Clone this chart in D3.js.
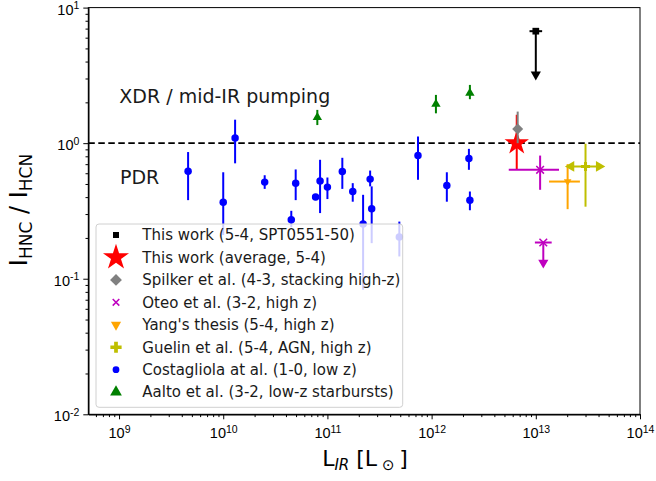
<!DOCTYPE html>
<html>
<head>
<style>
  body { margin: 0; background: #fff; }
  svg { font-family: "DejaVu Sans", sans-serif; }
  .axis path, .axis line { stroke: #000; stroke-width: 1px; }
  .axis text { fill: #000; }
  .ebar { fill: none; stroke-width: 2px; }
  .note { font-size: 19px; fill: #1a1a1a; }
  .legend text { font-size: 15px; fill: #1a1a1a; }
</style>
</head>
<body>
<svg id="chart" width="656" height="481"></svg>
<script src="https://d3js.org/d3.v7.min.js"></script>
<script>
// ---- data ----
// This work (5-4, SPT0551-50): upper limit
const thisL = [1.0e13], thisR = [6.7], thisLimit = [3.1];
const thisLlo = [8.7e12], thisLhi = [1.15e13];

// This work (average, 5-4)
const avgL = [6.56e12], avgR = [1.0], avgLo = [0.636], avgHi = [1.62];

// Spilker et al.
const spilL = [6.7e12], spilR = [1.27], spilLo = [1.0], spilHi = [1.71];

// Oteo et al. (second one is an upper limit)
const oteoL = [1.1e13, 1.18e13];
const oteoR = [0.636, 0.185];
const oteoLlo = [5.5e12, 9.8e12], oteoLhi = [1.67e13, 1.42e13];
const oteoLo = [0.453, 0.127], oteoHi = [0.81, 0.185];
const oteoUpper = [false, true];

// Yang's thesis
const yangL = [2.02e13], yangR = [0.521];
const yangLlo = [1.34e13], yangLhi = [2.65e13];
const yangLo = [0.326], yangHi = [0.70];

// Guelin et al. (limits in L both ways)
const guelL = [3.0e13], guelR = [0.673];
const guelLlo = [2.09e13], guelLhi = [4.23e13];
const guelLo = [0.34], guelHi = [0.99];

// Costagliola et al.
const costL = [4.6e9, 1.0e10, 1.3e10, 2.5e10, 4.5e10, 4.96e10, 7.7e10, 8.5e10, 1.0e11, 1.39e11,
               1.75e11, 2.2e11, 2.57e11, 2.66e11, 4.9e11, 7.4e11, 1.4e12, 2.28e12, 2.33e12];
const costR = [0.62, 0.367, 1.09, 0.516, 0.272, 0.507, 0.40, 0.527, 0.474, 0.618,
               0.44, 0.253, 0.543, 0.328, 0.203, 0.81, 0.487, 0.77, 0.38];
const costLo = [0.38, 0.21, 0.71, 0.46, 0.24, 0.38, 0.38, 0.305, 0.387, 0.46,
                0.37, 0.083, 0.48, 0.183, 0.146, 0.537, 0.37, 0.636, 0.32];
const costHi = [0.86, 0.61, 1.49, 0.58, 0.317, 0.64, 0.42, 0.754, 0.558, 0.78,
                0.507, 0.416, 0.628, 0.48, 0.264, 1.12, 0.61, 0.908, 0.44];

// Aalto et al.
const aaltoL = [8.0e10, 1.1e12, 2.33e12];
const aaltoR = [1.55, 1.94, 2.34];
const aaltoLo = [1.36, 1.66, 2.11];
const aaltoHi = [1.76, 2.27, 2.69];

const legendLabels = [
  "This work (5-4, SPT0551-50)",
  "This work (average, 5-4)",
  "Spilker et al. (4-3, stacking high-z)",
  "Oteo et al. (3-2, high z)",
  "Yang's thesis (5-4, high z)",
  "Guelin et al. (5-4, AGN, high z)",
  "Costagliola at al. (1-0, low z)",
  "Aalto et al. (3-2, low-z starbursts)"
];
const xTickExps = [9, 10, 11, 12, 13, 14];
const yTickExps = [-2, -1, 0, 1];

// ---- layout ----
const plot = { left: 88.3, right: 640, top: 7.6, bottom: 414.3 };
const svg = d3.select("#chart");

const x = d3.scaleLog().domain([5.07e8, 1e14]).range([plot.left, plot.right]);
const y = d3.scaleLog().domain([1e-2, 1e1]).range([plot.bottom, plot.top]);

// minor tick values
const xMinor = [], yMinor = [];
for (let e = 8; e < 14; e++) for (let m = 2; m < 10; m++) {
  const v = m * Math.pow(10, e);
  if (v >= 5.07e8 && v <= 1e14) xMinor.push(v);
}
for (let e = -2; e < 1; e++) for (let m = 2; m < 10; m++) yMinor.push(m * Math.pow(10, e));

function powText(t, d) {
  t.append("tspan").attr("font-size", "14.5px").text("10");
  t.append("tspan").attr("font-size", "10.5px").attr("dy", -5.5).text(Math.round(Math.log10(d)));
}

// axes
svg.append("g").attr("class", "axis")
  .attr("transform", `translate(0,${plot.bottom})`)
  .call(d3.axisBottom(x).tickValues(xMinor).tickSize(2.8).tickSizeOuter(0).tickFormat(""));
svg.append("g").attr("class", "axis")
  .attr("transform", `translate(0,${plot.bottom})`)
  .call(d3.axisBottom(x).tickValues(xTickExps.map(e => Math.pow(10, e))).tickSize(5).tickSizeOuter(0).tickFormat(""))
  .selectAll(".tick").each(function(d) {
    const t = d3.select(this).append("text")
      .attr("y", 24).attr("text-anchor", "middle").attr("fill", "#000");
    powText(t, d);
  });

svg.append("g").attr("class", "axis")
  .attr("transform", `translate(${plot.left},0)`)
  .call(d3.axisLeft(y).tickValues(yMinor).tickSize(2.8).tickSizeOuter(0).tickFormat(""));
svg.append("g").attr("class", "axis")
  .attr("transform", `translate(${plot.left},0)`)
  .call(d3.axisLeft(y).tickValues(yTickExps.map(e => Math.pow(10, e))).tickSize(5).tickSizeOuter(0).tickFormat(""))
  .selectAll(".tick").each(function(d) {
    const t = d3.select(this).append("text")
      .attr("x", -9).attr("y", 6.5).attr("text-anchor", "end").attr("fill", "#000");
    powText(t, d);
  });

// frame
svg.append("rect")
  .attr("x", plot.left).attr("y", plot.top)
  .attr("width", plot.right - plot.left).attr("height", plot.bottom - plot.top)
  .attr("fill", "none").attr("stroke", "#000").attr("stroke-width", 1);

// dashed line at ratio 1
svg.append("line")
  .attr("x1", plot.left).attr("x2", plot.right)
  .attr("y1", y(1)).attr("y2", y(1))
  .attr("stroke", "#000").attr("stroke-width", 1.8)
  .attr("stroke-dasharray", "6.5,3.5");

svg.append("text").attr("class", "note").attr("x", 119.3).attr("y", 103.3).text("XDR / mid-IR pumping");
svg.append("text").attr("class", "note").attr("x", 120).attr("y", 184).text("PDR");

// ---- helpers ----
const g = svg.append("g");

function vbars(xs, lo, hi, color) {
  g.selectAll(null).data(xs).enter().append("line")
    .attr("class", "ebar").attr("stroke", color)
    .attr("x1", d => x(d)).attr("x2", d => x(d))
    .attr("y1", (d, i) => y(lo[i])).attr("y2", (d, i) => y(hi[i]));
}
function hbars(ys, lo, hi, color) {
  g.selectAll(null).data(ys).enter().append("line")
    .attr("class", "ebar").attr("stroke", color)
    .attr("y1", d => y(d)).attr("y2", d => y(d))
    .attr("x1", (d, i) => x(lo[i])).attr("x2", (d, i) => x(hi[i]));
}
function arrowHead(px, py, rot, color, s) {
  g.append("path")
    .attr("d", d3.symbol(d3.symbolTriangle, s || 40)())
    .attr("transform", `translate(${px},${py}) rotate(${rot})`)
    .attr("fill", color);
}
function marks(xs, ys, type, size, color, rot) {
  const stroked = type === d3.symbolX;
  g.selectAll(null).data(xs).enter().append("path")
    .attr("d", d3.symbol(type, size)())
    .attr("transform", (d, i) => `translate(${x(d)},${y(ys[i])}) rotate(${rot || 0})`)
    .attr("fill", stroked ? "none" : color)
    .attr("stroke", stroked ? color : "none")
    .attr("stroke-width", 1.5);
}

// This work SPT0551-50 (upper limit)
hbars(thisR, thisLlo, thisLhi, "#000");
vbars(thisL, thisLimit, thisR, "#000");
thisL.forEach((d, i) => arrowHead(x(d), y(thisLimit[i]) - 2, 180, "#000", 45));
marks(thisL, thisR, d3.symbolSquare, 45, "#000");

// average
vbars(avgL, avgLo, avgHi, "#ff0000");
marks(avgL, avgR, d3.symbolStar, 185, "#ff0000");

// Spilker
vbars(spilL, spilLo, spilHi, "#808080");
marks(spilL, spilR, d3.symbolSquare, 60, "#808080", 45);

// Oteo
hbars(oteoR, oteoLlo, oteoLhi, "#bf00bf");
vbars(oteoL, oteoLo, oteoHi, "#bf00bf");
oteoL.forEach((d, i) => { if (oteoUpper[i]) arrowHead(x(d), y(oteoLo[i]) - 2, 180, "#bf00bf", 45); });
marks(oteoL, oteoR, d3.symbolX, 40, "#bf00bf");

// Yang
hbars(yangR, yangLlo, yangLhi, "#ffa500");
vbars(yangL, yangLo, yangHi, "#ffa500");
marks(yangL, yangR, d3.symbolTriangle, 25, "#ffa500", 180);

// Guelin
hbars(guelR, guelLlo, guelLhi, "#bfbf00");
vbars(guelL, guelLo, guelHi, "#bfbf00");
guelL.forEach((d, i) => {
  arrowHead(x(guelLlo[i]) + 2, y(guelR[i]), -90, "#bfbf00", 50);
  arrowHead(x(guelLhi[i]) - 2, y(guelR[i]), 90, "#bfbf00", 50);
});
marks(guelL, guelR, d3.symbolCross, 45, "#bfbf00");

// Costagliola
vbars(costL, costLo, costHi, "#0000ff");
marks(costL, costR, d3.symbolCircle, 44, "#0000ff");

// Aalto
vbars(aaltoL, aaltoLo, aaltoHi, "#008000");
marks(aaltoL, aaltoR, d3.symbolTriangle, 38, "#008000");

// ---- legend ----
const legendItems = [
  { type: d3.symbolSquare, size: 36, color: "#000", rot: 0 },
  { type: d3.symbolStar, size: 210, color: "#ff0000", rot: 0 },
  { type: d3.symbolSquare, size: 70, color: "#808080", rot: 45 },
  { type: d3.symbolX, size: 30, color: "#bf00bf", rot: 0 },
  { type: d3.symbolTriangle, size: 45, color: "#ffa500", rot: 180 },
  { type: d3.symbolCross, size: 70, color: "#bfbf00", rot: 0 },
  { type: d3.symbolCircle, size: 36, color: "#0000ff", rot: 0 },
  { type: d3.symbolTriangle, size: 60, color: "#008000", rot: 0 }
];
const legend = svg.append("g").attr("class", "legend");
legend.append("rect")
  .attr("x", 96).attr("y", 224).attr("width", 306.7).attr("height", 183.3)
  .attr("rx", 3).attr("fill", "#fff").attr("fill-opacity", 0.8)
  .attr("stroke", "#d0d0d0").attr("stroke-width", 1);
const li = legend.selectAll(".item").data(legendLabels).enter().append("g")
  .attr("class", "item")
  .attr("transform", (d, i) => `translate(0,${235 + i * 22.45})`);
li.append("path")
  .attr("d", (d, i) => d3.symbol(legendItems[i].type, legendItems[i].size)())
  .attr("transform", (d, i) => `translate(116,0) rotate(${legendItems[i].rot})`)
  .attr("fill", (d, i) => legendItems[i].type === d3.symbolX ? "none" : legendItems[i].color)
  .attr("stroke", (d, i) => legendItems[i].type === d3.symbolX ? legendItems[i].color : "none")
  .attr("stroke-width", 1.5);
li.append("text").attr("x", 142.3).attr("y", 5.3).text(d => d);

// ---- axis labels ----
const xl = svg.append("text").attr("x", 365).attr("y", 466).attr("text-anchor", "middle")
  .attr("font-size", "22px").attr("fill", "#000");
xl.append("tspan").text("L");
xl.append("tspan").attr("font-size", "15px").attr("font-style", "italic").attr("dy", 4).text("IR");
xl.append("tspan").attr("dy", -4).text(" [L");
xl.append("tspan").attr("font-size", "15px").attr("dy", 4).text(" \u2299 ");
xl.append("tspan").attr("dy", -4).text("]");

const yl = svg.append("text").attr("transform", "translate(27,210) rotate(-90)")
  .attr("text-anchor", "middle").attr("font-size", "24px").attr("fill", "#000");
yl.append("tspan").text("I");
yl.append("tspan").attr("font-size", "17px").attr("dy", 5).text("HNC");
yl.append("tspan").attr("dy", -5).text(" / I");
yl.append("tspan").attr("font-size", "17px").attr("dy", 5).text("HCN");
</script>
</body>
</html>
